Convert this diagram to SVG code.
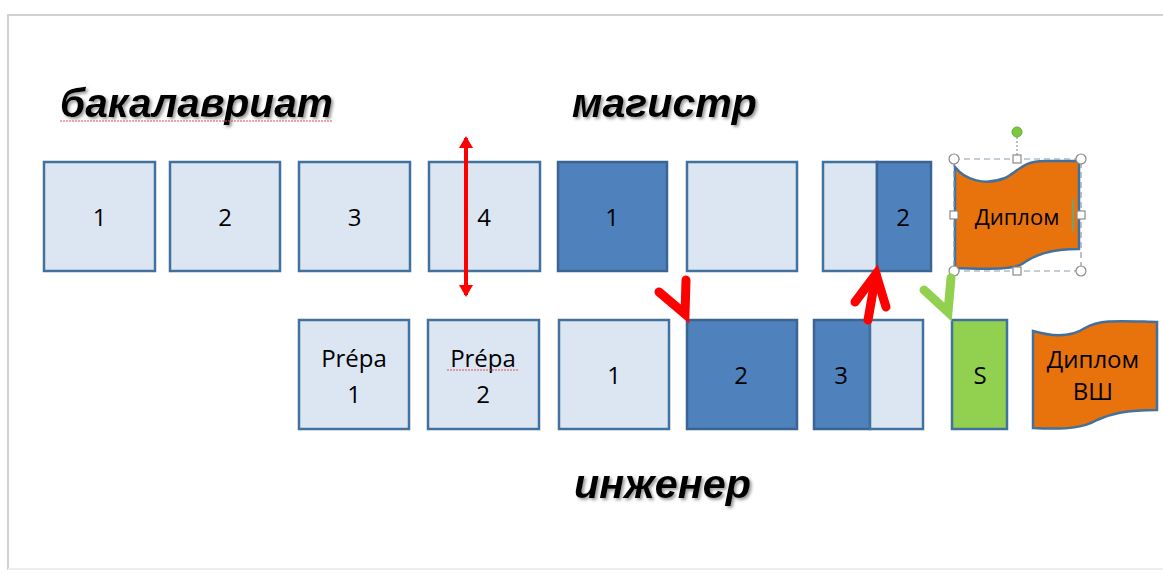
<svg xmlns="http://www.w3.org/2000/svg" width="1163" height="574" viewBox="0 0 1163 574">
<defs>
<filter id="sh" x="-10%" y="-30%" width="120%" height="160%">
<feDropShadow dx="2" dy="2" stdDeviation="1.8" flood-color="#555" flood-opacity="0.6"/>
</filter>
<marker id="rh" viewBox="0 0 12 14" refX="10" refY="7" markerWidth="12" markerHeight="14" markerUnits="userSpaceOnUse" orient="auto-start-reverse">
<path d="M0,0 L12,7 L0,14 Z" fill="#FF0000"/>
</marker>
</defs>
<style>
.lt{fill:#DCE6F2;stroke:#41719C;stroke-width:2.5}
.dk{fill:#4F81BD;stroke:#3A6592;stroke-width:2.5}
.gr{fill:#92D050;stroke:#41719C;stroke-width:2.5}
.or{fill:#E8720C;stroke:#41719C;stroke-width:2.5}
.n{font-family:"Open Sans","Liberation Sans",sans-serif;font-size:24px;fill:#000;text-anchor:middle}
.t{font-family:"Liberation Sans",Arial,sans-serif;font-weight:bold;font-style:italic;font-size:40px;fill:#000;filter:url(#sh)}
.arr{fill:none;stroke-width:9;stroke-linejoin:miter;stroke-linecap:round}
.sq{fill:none;stroke:#E05050;stroke-width:1;stroke-dasharray:2,1}
.hc{fill:#fff;stroke:#8a8a8a;stroke-width:1.2}
</style>
<rect width="1163" height="574" fill="#fff"/>
<g id="frame" fill="none" stroke="#d2d2d2" stroke-width="2">
<path d="M8,570 L8,15 L1163,15"/>
<path d="M8,569 L1163,569" stroke="#eeeeee"/>
</g>
<g id="title-bak"><text class="t" x="60" y="117" textLength="273" lengthAdjust="spacingAndGlyphs">бакалавриат</text><path class="sq" d="M60,121 L333,121"/></g>
<g id="title-mag"><text class="t" x="572" y="117" textLength="185" lengthAdjust="spacingAndGlyphs">магистр</text></g>
<g id="title-ing"><text class="t" x="574" y="498" textLength="177" lengthAdjust="spacingAndGlyphs">инженер</text></g>

<g id="b1"><rect class="lt" x="44" y="162" width="111" height="109"/><text class="n" x="99.5" y="226">1</text></g>
<g id="b2"><rect class="lt" x="170" y="162" width="110" height="109"/><text class="n" x="225" y="226">2</text></g>
<g id="b3"><rect class="lt" x="299" y="162" width="111" height="109"/><text class="n" x="354.5" y="226">3</text></g>
<g id="b4"><rect class="lt" x="429" y="162" width="111" height="109"/><text class="n" x="484" y="226">4</text></g>
<g id="m1"><rect class="dk" x="558" y="162" width="109" height="109"/><text class="n" x="612" y="226">1</text></g>
<g id="m-empty"><rect class="lt" x="687" y="162" width="110" height="109"/></g>
<g id="m2"><rect class="lt" x="823" y="162" width="54" height="109"/><rect class="dk" x="877" y="162" width="54" height="109"/><text class="n" x="903" y="226">2</text></g>
<g id="diplom">
<path class="or" d="M955,167 C965,180 985,186 1005,178 C1018,172 1022,161 1045,161 L1079,161 L1079,249 C1050,249 1035,255 1022,264 C1012,270 990,269 955,268 Z"/>
<text class="n" x="1017" y="225" style="font-size:22px">Диплом</text>
<path d="M1073,199 L1073,231" stroke="#4FB09A" stroke-width="1.5"/>
<g id="selection">
<rect x="954" y="159" width="127" height="112" fill="none" stroke="#8a9aa8" stroke-width="1.2" stroke-dasharray="6,4"/>
<path d="M1017,137 L1017,155" stroke="#8a9aa8" stroke-width="1.2" stroke-dasharray="2,2"/>
<circle cx="1017" cy="132" r="5" fill="#7DC83C" stroke="#6aa83a" stroke-width="1"/>
<circle class="hc" cx="954" cy="159" r="5"/><circle class="hc" cx="1081" cy="159" r="5"/>
<circle class="hc" cx="954" cy="271" r="5"/><circle class="hc" cx="1081" cy="271" r="5"/>
<rect class="hc" x="1013" y="155" width="8" height="8"/><rect class="hc" x="1013" y="267" width="8" height="8"/>
<rect class="hc" x="950" y="211" width="8" height="8"/><rect class="hc" x="1077" y="211" width="8" height="8"/>
</g>
</g>

<g id="p1"><rect class="lt" x="299" y="320" width="110" height="109"/><text class="n" x="354" y="367">Prépa</text><text class="n" x="354" y="403">1</text></g>
<g id="p2"><rect class="lt" x="428" y="320" width="111" height="109"/><text class="n" x="483" y="367">Prépa</text><text class="n" x="483" y="403">2</text><path class="sq" d="M447,370 L519,370"/></g>
<g id="i1"><rect class="lt" x="559" y="320" width="110" height="109"/><text class="n" x="614" y="384">1</text></g>
<g id="i2"><rect class="dk" x="687" y="320" width="110" height="109"/><text class="n" x="741" y="384">2</text></g>
<g id="i3"><rect class="dk" x="814" y="320" width="56" height="109"/><rect class="lt" x="870" y="320" width="53" height="109"/><text class="n" x="841" y="384">3</text></g>
<g id="s"><rect class="gr" x="952" y="320" width="55" height="109"/><text class="n" x="980" y="384">S</text></g>
<g id="diplom-vsh">
<path class="or" d="M1033,331 C1050,336 1070,338 1085,328 C1100,319 1120,321 1157,322 L1157,410 C1125,410 1110,414 1097,420 C1085,427 1070,430 1033,428 Z"/>
<text class="n" x="1093" y="368">Диплом</text>
<text class="n" x="1093" y="400">ВШ</text>
</g>

<g id="connectors">
<path d="M466,138 L466,295" stroke="#FF0000" stroke-width="4" fill="none" marker-start="url(#rh)" marker-end="url(#rh)"/>
<path class="arr" stroke="#FF0000" d="M659,292 L685,314 L686,280"/>
<path class="arr" stroke="#FF0000" d="M868,320 L876,274"/>
<path class="arr" stroke="#FF0000" d="M855,302 L876,274 L886,307"/>
<path class="arr" stroke="#92D050" d="M924,290 L948,312 L951,278"/>
</g>
</svg>
